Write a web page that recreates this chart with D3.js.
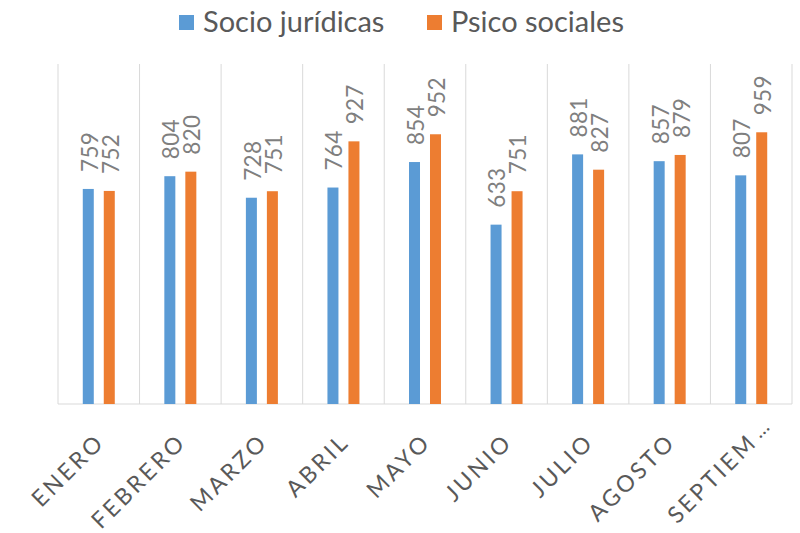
<!DOCTYPE html>
<html>
<head>
<meta charset="utf-8">
<script src="https://cdn.jsdelivr.net/npm/d3@7"></script>
<style>
  body { margin: 0; background: #fff; }
  text { font-family: Lato, "Liberation Sans", sans-serif; }
</style>
</head>
<body>
<svg id="chart" width="800" height="533"></svg>
<script>
// chart data
var months = ["ENERO", "FEBRERO", "MARZO", "ABRIL", "MAYO", "JUNIO", "JULIO", "AGOSTO", "SEPTIEM\u2026"];
var seriesNames = ["Socio jurídicas", "Psico sociales"];
var socio = [759, 804, 728, 764, 854, 633, 881, 857, 807];
var psico = [752, 820, 751, 927, 952, 751, 827, 879, 959];
var colours = ["#5B9BD5", "#ED7D31"];

var svg = d3.select("#chart");
var plot = { left: 58, right: 792, top: 64, bottom: 404 };

var rows = months.map(function (m, i) {
  return { month: m, values: [socio[i], psico[i]] };
});

var x0 = d3.scaleBand().domain(months).range([plot.left, plot.right]).padding(0);
var x1 = d3.scaleBand().domain([0, 1]).range([0, x0.bandwidth()])
  .paddingInner(0.476).paddingOuter(1.18);
var y = d3.scaleLinear().domain([0, 1200]).range([plot.bottom, plot.top]);

// vertical separators between categories
var edges = months.map(function (m) { return x0(m); }).concat([plot.right]);
svg.append("g").selectAll("line").data(edges).enter()
  .append("line")
  .attr("x1", function (d) { return d; })
  .attr("x2", function (d) { return d; })
  .attr("y1", plot.top)
  .attr("y2", plot.bottom)
  .attr("stroke", "#d9d9d9")
  .attr("stroke-width", 1);

svg.append("line")
  .attr("x1", plot.left).attr("x2", plot.right)
  .attr("y1", plot.bottom).attr("y2", plot.bottom)
  .attr("stroke", "#d9d9d9");

// bars
var groups = svg.append("g").selectAll("g").data(rows).enter()
  .append("g")
  .attr("transform", function (d) { return "translate(" + x0(d.month) + ",0)"; });

groups.selectAll("rect").data(function (d) { return d.values; }).enter()
  .append("rect")
  .attr("x", function (v, i) { return x1(i); })
  .attr("y", function (v) { return y(v); })
  .attr("width", x1.bandwidth())
  .attr("height", function (v) { return plot.bottom - y(v); })
  .attr("fill", function (v, i) { return colours[i]; });

// rotated value labels
groups.selectAll("text").data(function (d) { return d.values; }).enter()
  .append("text")
  .attr("transform", function (v, i) {
    var cx = x1(i) + x1.bandwidth() / 2 + 1.5;
    return "translate(" + cx + "," + (y(v) - 17) + ") rotate(-90)";
  })
  .attr("dy", "0.35em")
  .attr("font-size", 22.5)
  .attr("letter-spacing", 0.3)
  .attr("fill", "#7f7f7f")
  .text(function (v) { return v; });

// category labels; a truncated name keeps its anchor, the ellipsis runs past it
var catLabels = svg.append("g").selectAll("g").data(months).enter()
  .append("g")
  .attr("transform", function (m) {
    return "translate(" + (x0(m) + x0.bandwidth() / 2 - 4) + "," + 432 + ") rotate(-45)";
  });

catLabels.append("text")
  .attr("text-anchor", "end")
  .attr("dy", "0.7em")
  .attr("font-size", 23)
  .attr("letter-spacing", 3)
  .attr("fill", "#595959")
  .text(function (m) { return m.replace("\u2026", ""); });

catLabels.filter(function (m) { return m.indexOf("\u2026") >= 0; })
  .append("text")
  .attr("dx", 4)
  .attr("dy", "0.7em")
  .attr("font-size", 20)
  .attr("letter-spacing", 0)
  .attr("fill", "#595959")
  .text("\u2026");

// legend
var legendX = [179, 427];
var legend = svg.append("g").selectAll("g").data(seriesNames).enter()
  .append("g")
  .attr("transform", function (d, i) { return "translate(" + legendX[i] + ",0)"; });

legend.append("rect")
  .attr("x", 0).attr("y", 15)
  .attr("width", 15).attr("height", 15)
  .attr("fill", function (d, i) { return colours[i]; });

legend.append("text")
  .attr("x", 24).attr("y", 32)
  .attr("font-size", 29)
  .attr("fill", "#595959")
  .text(function (d) { return d; });
</script>
</body>
</html>
